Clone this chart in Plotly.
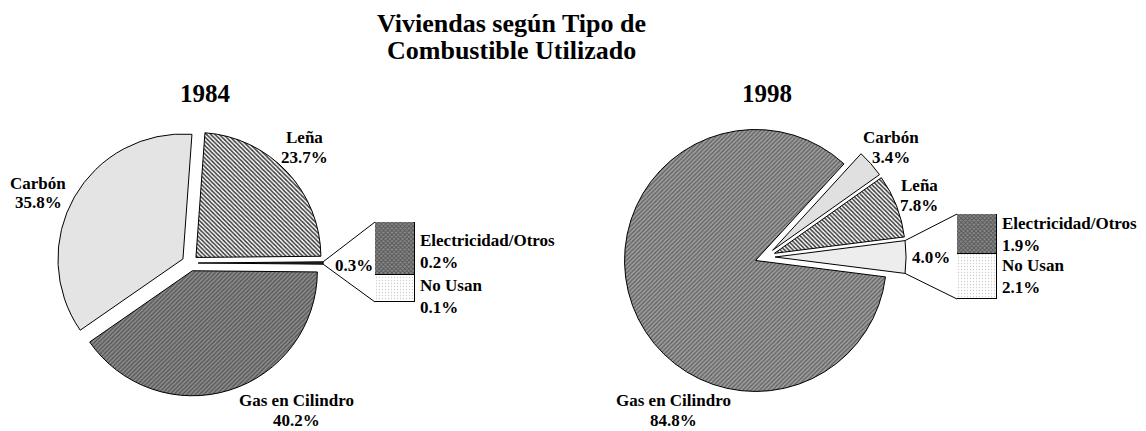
import math
import plotly.graph_objects as go

W, H = 1146, 431

# ---------------- data ----------------
title_lines = ["Viviendas según Tipo de", "Combustible Utilizado"]
years = ["1984", "1998"]
pie_labels = ["Otros", "Leña", "Carbón", "Gas en Cilindro"]
values_1984 = [0.3, 23.7, 35.8, 40.2]
values_1998 = [4.0, 7.8, 3.4, 84.8]
bar_labels = ["Electricidad/Otros", "No Usan"]
bar_1984 = [0.2, 0.1]
bar_1998 = [1.9, 2.1]

# ---------------- layout / style (pixels) ----------------
FONT = "Liberation Serif, Times New Roman, serif"
panels = [
    dict(year=years[0], values=values_1984, bars=bar_1984,
         cx=190, cy=263, r=125, pull=0.065,
         bar_box=(375, 222, 415, 302), year_xy=(205, 93),
         label_xy={"Leña": (304, 137), "Carbón": (38, 183),
                   "Gas en Cilindro": (296, 400), "Otros": (354, 265)},
         bar_label_shift=[3, 8],
         colors=["#2a2a2a", "#ffffff", "#e4e4e4", "#8a8a8a"],
         shapes=["", "\\", "", "/"],
         fg=["#000000", "#3a3a3a", "#000000", "#5a5a5a"],
         bg=["#2a2a2a", "#ffffff", "#e4e4e4", "#8f8f8f"]),
    dict(year=years[1], values=values_1998, bars=bar_1998,
         cx=765, cy=257, r=131, pull=0.077,
         bar_box=(957, 214, 997, 299), year_xy=(767, 93),
         label_xy={"Leña": (919, 185), "Carbón": (891, 137),
                   "Gas en Cilindro": (673, 400), "Otros": (931, 257)},
         bar_label_shift=[0, 0],
         colors=["#ededed", "#ffffff", "#e0e0e0", "#9a9a9a"],
         shapes=["", "\\", "", "/"],
         fg=["#000000", "#3a3a3a", "#000000", "#666666"],
         bg=["#ededed", "#ffffff", "#e0e0e0", "#a2a2a2"]),
]
bar_style = [
    dict(shape="x", fg="#1a1a1a", bg="#8a8a8a", size=3, solidity=0.5),  # Electricidad/Otros
    dict(shape=".", fg="#9a9a9a", bg="#ffffff", size=3, solidity=0.15),  # No Usan
]


def px(x):
    return x / W


def py(y):
    return 1 - y / H


fig = go.Figure()
annotations = []
shapes = []

for k, p in enumerate(panels):
    cx, cy, r, pull = p["cx"], p["cy"], p["r"], p["pull"]
    half = r * (1 + pull)
    other_deg = p["values"][0] / sum(p["values"]) * 360
    fig.add_trace(go.Pie(
        labels=pie_labels, values=p["values"], sort=False,
        direction="counterclockwise", rotation=90 - other_deg / 2,
        pull=[pull] * len(p["values"]),
        textinfo="none", hoverinfo="label+value", showlegend=False,
        domain=dict(x=[px(cx - half), px(cx + half)], y=[py(cy + half), py(cy - half)]),
        marker=dict(colors=p["colors"], line=dict(color="black", width=1),
                    pattern=dict(shape=p["shapes"], fgcolor=p["fg"], bgcolor=p["bg"],
                                 size=3, solidity=0.5, fillmode="replace")),
    ))

    # stacked column of the "Otros" breakdown
    bx0, by0, bx1, by1 = p["bar_box"]
    xa = "x" if k == 0 else "x2"
    ya = "y" if k == 0 else "y2"
    total = sum(p["bars"])
    order = [1, 0]  # bottom: No Usan, top: Electricidad/Otros
    for j in order:
        st = bar_style[j]
        fig.add_trace(go.Bar(
            x=[0], y=[p["bars"][j]], xaxis=xa, yaxis=ya, width=1, showlegend=False,
            name=bar_labels[j],
            marker=dict(color=st["bg"], line=dict(color="black", width=1),
                        pattern=dict(shape=st["shape"], fgcolor=st["fg"], bgcolor=st["bg"],
                                     size=st["size"], solidity=st["solidity"])),
        ))
    axn = "" if k == 0 else "2"
    fig.layout["xaxis" + axn] = dict(domain=[px(bx0), px(bx1)], range=[-0.5, 0.5],
                                     visible=False, fixedrange=True, anchor="y" + axn)
    fig.layout["yaxis" + axn] = dict(domain=[py(by1), py(by0)], range=[0, total],
                                     visible=False, fixedrange=True, anchor="x" + axn)

    # bar labels (placed at segment middles via the axis scale)
    mids = [p["bars"][1] + p["bars"][0] / 2, p["bars"][1] / 2]
    for j in range(2):
        lines = [bar_labels[j], f"{p['bars'][j]:.1f}%"]
        for li, t in enumerate(lines):
            annotations.append(dict(
                text=f"<b>{t}</b>", x=0.5, y=mids[j], xref=xa, yref=ya,
                xanchor="left", yanchor="middle", xshift=3,
                yshift=-(li * 22 - 11) - p["bar_label_shift"][j],
                showarrow=False, font=dict(family=FONT, size=17, color="black")))

    # connector lines from the pie's "Otros" slice to the column
    pcx = cx + pull * r
    hr = math.radians(other_deg / 2)
    ex = pcx + r * math.cos(hr)
    for sgn, by in ((-1, by0), (1, by1)):
        ey = cy + sgn * r * math.sin(hr)
        shapes.append(dict(type="line", xref="paper", yref="paper",
                           x0=px(ex), y0=py(ey), x1=px(bx0), y1=py(by),
                           line=dict(color="black", width=1)))

    # pie labels
    for name, v in zip(pie_labels, p["values"]):
        lx, ly = p["label_xy"][name]
        lines = [f"{v:.1f}%"] if name == "Otros" else [name, f"{v:.1f}%"]
        for li, t in enumerate(lines):
            annotations.append(dict(
                text=f"<b>{t}</b>", x=px(lx), y=py(ly + li * 20), xref="paper", yref="paper",
                xanchor="center", yanchor="middle", showarrow=False,
                font=dict(family=FONT, size=17, color="black")))

    # year subtitle
    yx, yy = p["year_xy"]
    annotations.append(dict(text=f"<b>{p['year']}</b>", x=px(yx), y=py(yy), xref="paper",
                            yref="paper", showarrow=False, xanchor="center", yanchor="middle",
                            font=dict(family=FONT, size=25, color="black")))

# main title
for li, t in enumerate(title_lines):
    annotations.append(dict(text=f"<b>{t}</b>", x=px(511), y=py(23 + li * 27), xref="paper",
                            yref="paper", showarrow=False, xanchor="center", yanchor="middle",
                            font=dict(family=FONT, size=26, color="black")))

fig.update_layout(
    width=W, height=H, margin=dict(l=0, r=0, t=0, b=0),
    paper_bgcolor="white", plot_bgcolor="white",
    barmode="stack", bargap=0, showlegend=False,
    annotations=annotations, shapes=shapes,
)

fig.write_html("out.html", config={"displayModeBar": False},
               post_script="document.body.style.margin='0';document.body.style.padding='0';")
